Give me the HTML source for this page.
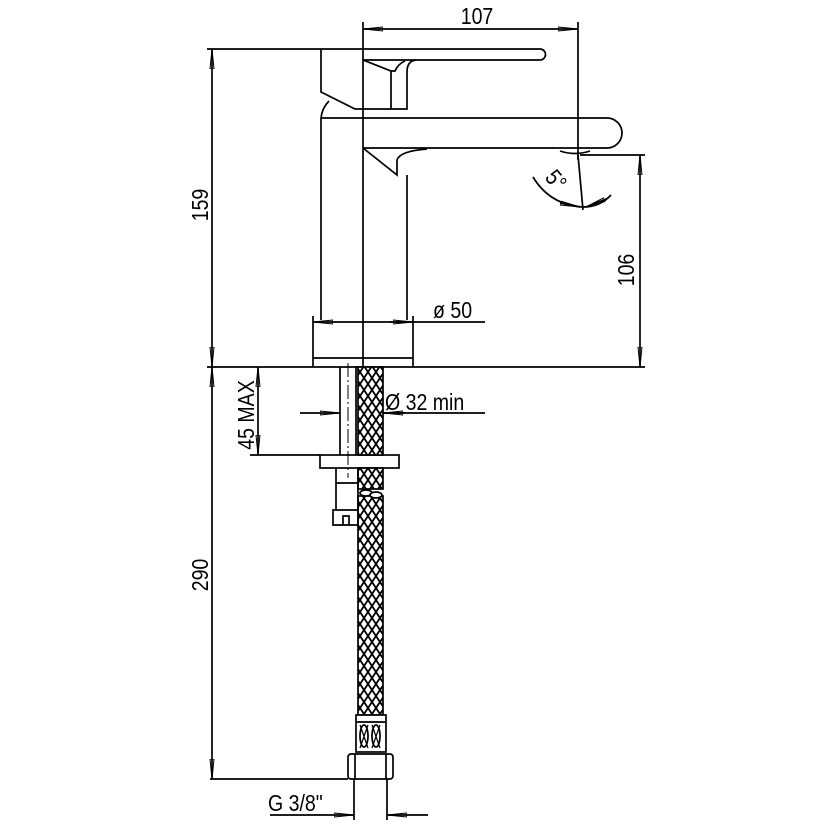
<!DOCTYPE html>
<html><head><meta charset="utf-8"><style>
html,body{margin:0;padding:0;background:#fff}
svg{display:block}
text{font-family:"Liberation Sans",sans-serif;font-size:23px;fill:#000}
</style></head><body>
<svg width="834" height="834" viewBox="0 0 834 834" xmlns="http://www.w3.org/2000/svg">
<defs>
<pattern id="br" width="8" height="12" patternUnits="userSpaceOnUse">
<rect width="8" height="12" fill="#fff"/>
<path d="M0 0 L8 12 M8 0 L0 12" stroke="#000" stroke-width="1.8"/>
</pattern>
<marker id="a" viewBox="0 0 20 6" refX="20" refY="3" markerWidth="20" markerHeight="6" markerUnits="userSpaceOnUse" orient="auto-start-reverse">
<path d="M0 1 L20 3 L0 5 Z" fill="none" stroke="#000" stroke-width="1"/>
</marker>
</defs>
<g fill="none" stroke="#000" stroke-width="1.7">
<line x1="207" y1="367" x2="645" y2="367"/>
<line x1="207" y1="49" x2="321" y2="49"/>
<line x1="210" y1="779" x2="348" y2="779"/>
<line x1="212" y1="49" x2="212" y2="367" marker-start="url(#a)" marker-end="url(#a)"/>
<line x1="212" y1="367" x2="212" y2="779" marker-start="url(#a)" marker-end="url(#a)"/>
<line x1="363" y1="22" x2="363" y2="367"/>
<line x1="578" y1="22" x2="578" y2="160"/>
<line x1="363" y1="29" x2="578" y2="29" marker-start="url(#a)" marker-end="url(#a)"/>
<path d="M321 49 L540 49 A5.5 5.5 0 0 1 540 60 L363 60"/>
<path d="M321 49 L321 92 L355 109 L407 109 L407 72 Q407 61 416 60"/>
<path d="M363 60 L391 71 L395 71 Q398 64 405 61"/>
<path d="M391 71 L391 109"/>
<path d="M329 101 Q322 108 321 118"/>
<path d="M321 118 L607 118 A15 15 0 0 1 607 148 L363 148"/>
<path d="M363 148 L397 175 L397 160 Q400 151 427 149"/>
<path d="M560 151 Q575 156 590 151"/>
<line x1="321" y1="118" x2="321" y2="320"/>
<line x1="407" y1="175" x2="407" y2="320"/>
<line x1="580" y1="155" x2="645" y2="155"/>
<line x1="640" y1="155" x2="640" y2="367" marker-start="url(#a)" marker-end="url(#a)"/>
<line x1="578" y1="155" x2="583" y2="210"/>
<path d="M533 177 Q550 205 583 207 Q600 207 611 195"/>
<line x1="560" y1="203" x2="580" y2="207" marker-end="url(#a)"/>
<line x1="606" y1="199" x2="586" y2="207" marker-end="url(#a)"/>
<line x1="313" y1="316" x2="313" y2="367"/>
<line x1="413" y1="316" x2="413" y2="367"/>
<line x1="313" y1="358" x2="413" y2="358"/>
<line x1="313" y1="322" x2="363" y2="322" marker-start="url(#a)"/>
<line x1="363" y1="322" x2="485" y2="322"/>
<line x1="390" y1="322" x2="413" y2="322" marker-end="url(#a)"/>
<line x1="340" y1="367" x2="340" y2="455"/>
<line x1="356" y1="367" x2="356" y2="455"/>
<line x1="348" y1="363" x2="348" y2="478" stroke-width="1" stroke-dasharray="14 3 2 3"/>
<line x1="300" y1="413" x2="340" y2="413" marker-end="url(#a)"/>
<line x1="405" y1="413" x2="383" y2="413" marker-end="url(#a)"/>
<line x1="383" y1="413" x2="485" y2="413"/>
<line x1="258" y1="367" x2="258" y2="455" marker-start="url(#a)" marker-end="url(#a)"/>
<line x1="250" y1="455" x2="320" y2="455"/>
<rect x="320" y="455" width="79" height="13"/>
<rect x="358" y="367" width="25" height="88" fill="url(#br)"/>
<rect x="358" y="468" width="25" height="21" fill="url(#br)"/>
<rect x="358" y="496" width="25" height="219" fill="url(#br)"/>
<ellipse cx="366" cy="493" rx="6" ry="3" fill="#fff"/>
<ellipse cx="376" cy="495" rx="6" ry="3" fill="#fff"/>
<path d="M336 468 L336 510 M358 468 L358 510 M336 483 L358 483"/>
<path d="M333 510 L358 510 L358 525 L333 525 Z M343 525 L343 516 L349 516 L349 525"/>
<rect x="356" y="715" width="30" height="37" fill="#fff"/>
<line x1="356" y1="722" x2="386" y2="722"/>
<path d="M360 725 L368 748 M368 725 L360 748 M372 725 L380 748 M380 725 L372 748" stroke-width="1.2"/>
<ellipse cx="364" cy="736" rx="4" ry="11"/><ellipse cx="376" cy="736" rx="4" ry="11"/>
<rect x="348" y="754" width="45" height="25" rx="3"/>
<line x1="355" y1="754" x2="355" y2="779"/><line x1="386" y1="754" x2="386" y2="779"/>
<line x1="354" y1="779" x2="354" y2="820"/><line x1="387" y1="779" x2="387" y2="820"/>
<line x1="270" y1="815" x2="354" y2="815" marker-end="url(#a)"/>
<line x1="428" y1="815" x2="387" y2="815" marker-end="url(#a)"/>
</g>
<text transform="translate(477,24) scale(0.85,1)" text-anchor="middle">107</text>
<text transform="translate(208,205) rotate(-90) scale(0.85,1)" text-anchor="middle">159</text>
<text transform="translate(208,575) rotate(-90) scale(0.85,1)" text-anchor="middle">290</text>
<text transform="translate(634,270) rotate(-90) scale(0.85,1)" text-anchor="middle">106</text>
<text transform="translate(254,415) rotate(-90) scale(0.85,1)" text-anchor="middle">45 MAX</text>
<text transform="translate(550,185) rotate(50) scale(0.85,1)" text-anchor="middle">5°</text>
<text transform="translate(433,318) scale(0.85,1)">ø 50</text>
<text transform="translate(385,410) scale(0.85,1)">Ø 32  min</text>
<text transform="translate(268,811) scale(0.85,1)">G  3/8"</text>
</svg>
</body></html>
